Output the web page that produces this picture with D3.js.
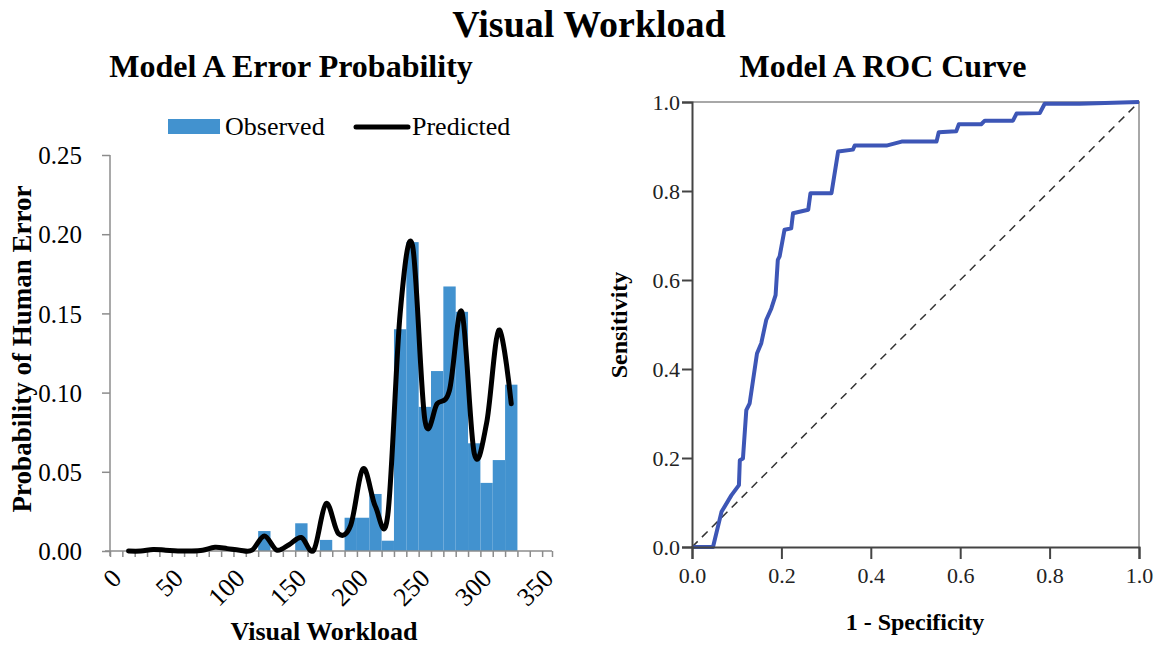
<!DOCTYPE html>
<html><head><meta charset="utf-8">
<script src="https://cdn.jsdelivr.net/npm/d3@7"></script>
<style>body{margin:0;background:#fff}svg{display:block}</style>
</head><body><svg id="c" width="1164" height="647"></svg>
<script>
// ---- Left chart data ----
const binStarts = d3.range(0, 330, 10);
const observed = [0,0,0,0,0,0,0,0,0,0,0,0,0.0126,0,0,0.0175,0,0.007,0,0.021,0.021,0.036,0.0065,0.140,0.195,0.091,0.1136,0.167,0.151,0.068,0.043,0.0574,0.105];
const predX = d3.range(15, 330, 10);
const predicted = [0,0,0.001,0.0005,0,0,0.0005,0.0023,0.0015,0.0005,0.0005,0.0095,0.0006,0.004,0.0085,0.0005,0.030,0.011,0.0164,0.052,0.028,0.0227,0.150,0.193,0.083,0.093,0.1016,0.151,0.0617,0.0806,0.1395,0.093];
const yTicksL = [0,0.05,0.10,0.15,0.20,0.25];
const xTickLabelsL = [0,50,100,150,200,250,300,350];
// ---- ROC data ----
const fpr = [0,0.047,0.066,0.088,0.105,0.107,0.114,0.1215,0.129,0.1454,0.155,0.166,0.1775,0.187,0.192,0.196,0.207,0.222,0.226,0.26,0.265,0.312,0.327,0.36,0.364,0.435,0.469,0.547,0.552,0.591,0.597,0.647,0.655,0.718,0.726,0.778,0.789,0.867,1];
const tpr = [0,0,0.079,0.116,0.139,0.195,0.199,0.3075,0.323,0.435,0.458,0.51,0.536,0.566,0.645,0.653,0.713,0.716,0.75,0.758,0.795,0.795,0.889,0.893,0.902,0.902,0.911,0.911,0.932,0.934,0.95,0.95,0.958,0.958,0.974,0.975,0.996,0.996,1];
const rocTicks = [0,0.2,0.4,0.6,0.8,1.0];

const svg = d3.select('#c');
const serif = '"Liberation Serif","Times New Roman",serif';

svg.append('text').attr('x',589).attr('y',37).attr('text-anchor','middle')
  .style('font-family',serif).style('font-weight','bold').style('font-size','38px').text('Visual Workload');

// ===== Left chart =====
const xL = d3.scaleLinear().domain([0,358]).range([110,552]);
const yL = d3.scaleLinear().domain([0,0.25]).range([551,155]);
const gL = svg.append('g');
gL.append('text').attr('x',291).attr('y',77).attr('text-anchor','middle')
  .style('font-family',serif).style('font-weight','bold').style('font-size','32px').text('Model A Error Probability');

// bars
gL.selectAll('rect.bar').data(binStarts.map((b,i)=>({b,v:observed[i]})).filter(d=>d.v>0))
  .enter().append('rect').attr('class','bar')
  .attr('x',d=>xL(d.b)).attr('width',d=>xL(d.b+10)-xL(d.b))
  .attr('y',d=>yL(d.v)).attr('height',d=>yL(0)-yL(d.v))
  .attr('fill','#4292cf');

// axes
const axisCol = '#8c8c8c';
const yAxL = gL.append('g').attr('transform','translate(110,0)')
  .call(d3.axisLeft(yL).tickValues(yTicksL).tickSize(8).tickFormat(d3.format('.2f')).tickPadding(20));
yAxL.select('.domain').attr('stroke',axisCol).attr('stroke-width',1.5).attr('d','M0,155V556');
yAxL.selectAll('line').attr('stroke',axisCol).attr('stroke-width',1.5);
yAxL.selectAll('text').style('font-family',serif).style('font-size','25px').attr('fill','#000').attr('dy','0.35em');

const xAxL = gL.append('g').attr('transform','translate(0,551)')
  .call(d3.axisBottom(xL).tickValues(d3.range(0,360,10).concat([358])).tickSize(6).tickFormat(''));
xAxL.select('.domain').attr('stroke',axisCol).attr('stroke-width',1.5).attr('d','M105,0H552');
xAxL.selectAll('line').attr('stroke',axisCol).attr('stroke-width',1.5);
gL.selectAll('text.xl').data(xTickLabelsL).enter().append('text').attr('class','xl')
  .attr('transform',d=>`translate(${xL(d)},567) rotate(-45)`)
  .attr('text-anchor','end').attr('dy','0.7em')
  .style('font-family',serif).style('font-size','26px').text(d=>d);

// predicted line
const line = d3.line().x((d,i)=>xL(predX[i])).y(d=>yL(d)).curve(d3.curveCatmullRom.alpha(0));
gL.append('path').datum(predicted).attr('d',line).attr('fill','none')
  .attr('stroke','#000').attr('stroke-width',5).attr('stroke-linecap','round').attr('stroke-linejoin','round');

// axis titles
gL.append('text').attr('x',324).attr('y',640).attr('text-anchor','middle')
  .style('font-family',serif).style('font-weight','bold').style('font-size','26px').text('Visual Workload');
gL.append('text').attr('transform','translate(31,349) rotate(-90)').attr('text-anchor','middle')
  .style('font-family',serif).style('font-weight','bold').style('font-size','27px').text('Probability of Human Error');

// legend
gL.append('rect').attr('x',168).attr('y',119).attr('width',52).attr('height',15).attr('fill','#4292cf');
gL.append('text').attr('x',225).attr('y',135).style('font-family',serif).style('font-size','26px').text('Observed');
gL.append('line').attr('x1',356).attr('x2',408).attr('y1',127).attr('y2',127).attr('stroke','#000').attr('stroke-width',5).attr('stroke-linecap','round');
gL.append('text').attr('x',412).attr('y',135).style('font-family',serif).style('font-size','26px').text('Predicted');

// ===== Right chart (ROC) =====
const xR = d3.scaleLinear().domain([0,1]).range([692,1139]);
const yR = d3.scaleLinear().domain([0,1]).range([547,102]);
const gR = svg.append('g');
gR.append('text').attr('x',883).attr('y',77).attr('text-anchor','middle')
  .style('font-family',serif).style('font-weight','bold').style('font-size','32px').text('Model A ROC Curve');
// frame top/right
gR.append('path').attr('d',`M${xR(0)},${yR(1)}H${xR(1)}V${yR(0)}`).attr('fill','none').attr('stroke','#a8a8a8').attr('stroke-width',2);
// diagonal
gR.append('line').attr('x1',xR(0)).attr('y1',yR(0)).attr('x2',xR(1)).attr('y2',yR(1))
  .attr('stroke','#333').attr('stroke-width',1.5).attr('stroke-dasharray','8,6');
// ROC curve
const rocLine = d3.line().x((d,i)=>xR(fpr[i])).y(d=>yR(d));
gR.append('path').datum(tpr).attr('d',rocLine).attr('fill','none').attr('stroke','#3d56b6').attr('stroke-width',4).attr('stroke-linejoin','round');
// axes
const yAxR = gR.append('g').attr('transform',`translate(${xR(0)},0)`)
  .call(d3.axisLeft(yR).tickValues(rocTicks).tickSize(10).tickFormat(d3.format('.1f')).tickPadding(2));
yAxR.select('.domain').attr('stroke','#444').attr('stroke-width',2);
yAxR.selectAll('line').attr('stroke','#444').attr('stroke-width',2);
yAxR.selectAll('text').style('font-family',serif).style('font-size','22px').attr('fill','#222');
const xAxR = gR.append('g').attr('transform',`translate(0,${yR(0)})`)
  .call(d3.axisBottom(xR).tickValues(rocTicks).tickSize(12).tickFormat(d3.format('.1f')).tickPadding(8));
xAxR.select('.domain').attr('stroke','#444').attr('stroke-width',2);
xAxR.selectAll('line').attr('stroke','#444').attr('stroke-width',2);
xAxR.selectAll('text').style('font-family',serif).style('font-size','22px').attr('fill','#222');
gR.append('text').attr('x',915).attr('y',630).attr('text-anchor','middle')
  .style('font-family',serif).style('font-weight','bold').style('font-size','24px').text('1 - Specificity');
gR.append('text').attr('transform','translate(627,325) rotate(-90)').attr('text-anchor','middle')
  .style('font-family',serif).style('font-weight','bold').style('font-size','24px').text('Sensitivity');
</script></body></html>
